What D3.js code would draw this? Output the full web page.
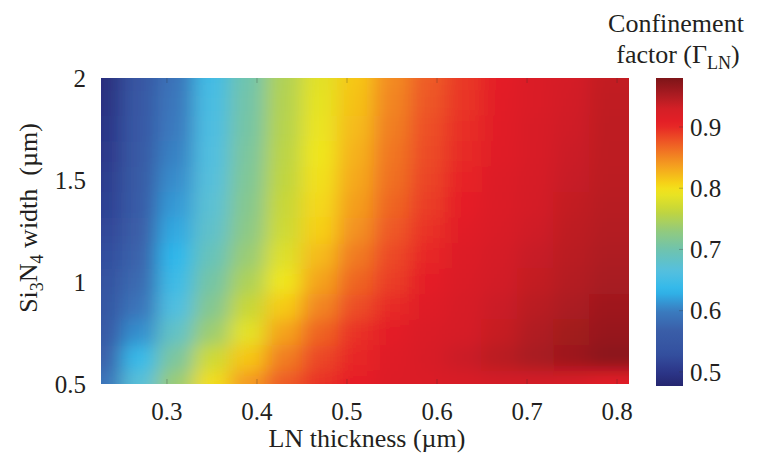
<!DOCTYPE html>
<html>
<head>
<meta charset="utf-8">
<script src="https://cdn.jsdelivr.net/npm/d3@7"></script>
<style>
  body { margin: 0; background: #fff; }
  svg { display: block; }
  text { font-family: "Liberation Serif", "Times New Roman", serif; fill: #231f20; }
</style>
</head>
<body>
<svg id="chart" width="770" height="459"></svg>
<script>
// LN thickness (um) of each column, Si3N4 width (um) of each row
var thickness = [0.23, 0.27, 0.31, 0.35, 0.39, 0.43, 0.47, 0.51, 0.55, 0.59, 0.63, 0.67, 0.71, 0.75, 0.79];
var widths = [2.0, 1.875, 1.75, 1.625, 1.5, 1.375, 1.25, 1.125, 1.0, 0.875, 0.75, 0.625, 0.5];

// confinement factor, one row per width (top to bottom)
var gamma = [
  [0.490, 0.548, 0.590, 0.650, 0.700, 0.750, 0.785, 0.815, 0.848, 0.873, 0.892, 0.908, 0.921, 0.930, 0.940],
  [0.494, 0.551, 0.594, 0.654, 0.703, 0.752, 0.788, 0.818, 0.851, 0.876, 0.894, 0.910, 0.922, 0.931, 0.941],
  [0.498, 0.554, 0.598, 0.658, 0.706, 0.754, 0.791, 0.822, 0.855, 0.879, 0.897, 0.912, 0.924, 0.933, 0.942],
  [0.502, 0.556, 0.603, 0.662, 0.710, 0.757, 0.795, 0.827, 0.859, 0.882, 0.900, 0.914, 0.925, 0.935, 0.943],
  [0.507, 0.559, 0.609, 0.667, 0.714, 0.760, 0.799, 0.832, 0.863, 0.885, 0.903, 0.917, 0.927, 0.937, 0.944],
  [0.513, 0.562, 0.616, 0.673, 0.719, 0.765, 0.804, 0.838, 0.868, 0.890, 0.907, 0.920, 0.930, 0.940, 0.946],
  [0.520, 0.566, 0.624, 0.680, 0.725, 0.770, 0.810, 0.845, 0.875, 0.895, 0.912, 0.923, 0.933, 0.942, 0.948],
  [0.528, 0.572, 0.633, 0.692, 0.735, 0.782, 0.822, 0.857, 0.883, 0.902, 0.917, 0.928, 0.937, 0.945, 0.951],
  [0.536, 0.580, 0.645, 0.705, 0.748, 0.795, 0.835, 0.868, 0.890, 0.908, 0.922, 0.931, 0.940, 0.948, 0.955],
  [0.545, 0.592, 0.660, 0.718, 0.765, 0.813, 0.851, 0.881, 0.900, 0.915, 0.926, 0.935, 0.945, 0.953, 0.960],
  [0.555, 0.610, 0.683, 0.737, 0.786, 0.835, 0.869, 0.895, 0.909, 0.921, 0.928, 0.938, 0.950, 0.958, 0.965],
  [0.570, 0.640, 0.710, 0.770, 0.815, 0.855, 0.884, 0.902, 0.915, 0.925, 0.935, 0.945, 0.955, 0.962, 0.972],
  [0.590, 0.670, 0.735, 0.800, 0.840, 0.873, 0.895, 0.905, 0.917, 0.922, 0.925, 0.930, 0.930, 0.925, 0.910]
];

var xTicks = [0.3, 0.4, 0.5, 0.6, 0.7, 0.8];
var yTicks = [0.5, 1, 1.5, 2];
var cbTicks = [0.5, 0.6, 0.7, 0.8, 0.9];
var cbRange = [0.477, 0.98];

// colormap
var cmapStops = [0.477, 0.50, 0.53, 0.567, 0.60, 0.632, 0.665, 0.697, 0.73, 0.763, 0.795, 0.81, 0.84, 0.874, 0.905, 0.93, 0.95, 0.98];
var cmapColors = ['#25266f', '#2c3689', '#34509f', '#3a5ea8', '#3a7cc0', '#2eb8ec', '#55c0df', '#6cc3b2', '#92ca7e', '#c4d63a',
                  '#f0e61e', '#f6cf17', '#f49a20', '#ee5a25', '#e61f26', '#d41f26', '#b01c22', '#7d1418'];

render();

function render() {
  var dt = 0.04, dw = 0.125;
  var svg = d3.select('#chart');
  var pL = 101, pR = 629, pT = 78, pB = 384;

  var x = d3.scaleLinear().domain([0.2267, 0.8133]).range([pL, pR]);
  var y = d3.scaleLinear().domain([0.5, 2]).range([pB, pT]);
  var color = d3.scaleLinear().domain(cmapStops).range(cmapColors).interpolate(d3.interpolateRgb).clamp(true);

  var defs = svg.append('defs');
  defs.append('clipPath').attr('id', 'plotClip')
    .append('rect').attr('x', pL).attr('y', pT).attr('width', pR - pL).attr('height', pB - pT);
  defs.append('filter').attr('id', 'smooth')
    .attr('filterUnits', 'userSpaceOnUse')
    .attr('x', 0).attr('y', 0).attr('width', 770).attr('height', 459)
    .append('feGaussianBlur').attr('stdDeviation', '10 8');

  var cells = [];
  widths.forEach(function(w, i) {
    thickness.forEach(function(t, j) {
      cells.push({ t: t, w: w, v: gamma[i][j], i: i, j: j });
    });
  });

  var ext = 30;
  svg.append('g').attr('clip-path', 'url(#plotClip)')
    .append('g').attr('filter', 'url(#smooth)')
    .selectAll('rect')
    .data(cells)
    .enter()
    .append('rect')
    .attr('x', function(d) { return x(d.t - dt / 2) - (d.j == 0 ? ext : 0) - 0.5; })
    .attr('width', function(d) {
      var w = x(d.t + dt / 2) - x(d.t - dt / 2) + 1;
      if (d.j == 0) w += ext;
      if (d.j == thickness.length - 1) w += ext;
      return w;
    })
    .attr('y', function(d) { return y(d.w + dw / 2) - (d.i == 0 ? ext : 0) - 0.5; })
    .attr('height', function(d) {
      var h = y(d.w - dw / 2) - y(d.w + dw / 2) + 1;
      if (d.i == 0) h += ext;
      if (d.i == widths.length - 1) h += ext;
      return h;
    })
    .attr('fill', function(d) { return color(d.v); });

  // faint inward ticks
  var tickG = svg.append('g').attr('stroke', '#333').attr('stroke-opacity', 0.3).attr('stroke-width', 1);
  xTicks.forEach(function(t) {
    tickG.append('line').attr('x1', x(t)).attr('x2', x(t)).attr('y1', pB).attr('y2', pB - 5);
    tickG.append('line').attr('x1', x(t)).attr('x2', x(t)).attr('y1', pT).attr('y2', pT + 5);
  });

  // tick labels
  svg.append('g').selectAll('text').data(xTicks).enter().append('text')
    .attr('x', function(d) { return x(d); })
    .attr('y', 420)
    .attr('text-anchor', 'middle')
    .attr('font-size', 25)
    .text(function(d) { return d3.format('.1f')(d); });

  svg.append('g').selectAll('text').data(yTicks).enter().append('text')
    .attr('x', 86)
    .attr('y', function(d) { return y(d); })
    .attr('dy', '0.35em')
    .attr('text-anchor', 'end')
    .attr('font-size', 25)
    .text(function(d) { return d; });

  // axis titles
  svg.append('text')
    .attr('x', 367).attr('y', 447)
    .attr('text-anchor', 'middle')
    .attr('font-size', 26)
    .text('LN thickness (\u00b5m)');

  var yl = svg.append('text')
    .attr('transform', 'translate(37,218) rotate(-90)')
    .attr('text-anchor', 'middle')
    .attr('font-size', 26)
    .style('white-space', 'pre');
  yl.append('tspan').text('Si');
  yl.append('tspan').attr('dy', 6).attr('font-size', 18).text('3');
  yl.append('tspan').attr('dy', -6).text('N');
  yl.append('tspan').attr('dy', 6).attr('font-size', 18).text('4');
  yl.append('tspan').attr('dy', -6).text(' width  (\u00b5m)');

  // colorbar
  var cbX = 656, cbW = 27;
  var cb = d3.scaleLinear().domain(cbRange).range([386, 78]);
  var grad = defs.append('linearGradient').attr('id', 'cbGrad')
    .attr('x1', 0).attr('y1', 1).attr('x2', 0).attr('y2', 0);
  d3.range(0, 1.0001, 0.02).forEach(function(f) {
    var v = cbRange[0] + f * (cbRange[1] - cbRange[0]);
    grad.append('stop').attr('offset', f).attr('stop-color', color(v));
  });
  svg.append('rect')
    .attr('x', cbX).attr('y', cb(cbRange[1]))
    .attr('width', cbW).attr('height', cb(cbRange[0]) - cb(cbRange[1]))
    .attr('fill', 'url(#cbGrad)');

  var cbTickG = svg.append('g').attr('stroke', '#333').attr('stroke-opacity', 0.3);
  cbTicks.forEach(function(v) {
    cbTickG.append('line').attr('x1', cbX + cbW).attr('x2', cbX + cbW - 4).attr('y1', cb(v)).attr('y2', cb(v));
  });

  svg.append('g').selectAll('text').data(cbTicks).enter().append('text')
    .attr('x', 690)
    .attr('y', function(d) { return cb(d); })
    .attr('dy', '0.35em')
    .attr('font-size', 25)
    .text(function(d) { return d3.format('.1f')(d); });

  svg.append('text')
    .attr('x', 676).attr('y', 32)
    .attr('text-anchor', 'middle')
    .attr('font-size', 26)
    .text('Confinement');
  var t2 = svg.append('text')
    .attr('x', 678).attr('y', 63)
    .attr('text-anchor', 'middle')
    .attr('font-size', 26);
  t2.append('tspan').text('factor (\u0393');
  t2.append('tspan').attr('dy', 6).attr('font-size', 18).text('LN');
  t2.append('tspan').attr('dy', -6).text(')');
}
</script>
</body>
</html>
